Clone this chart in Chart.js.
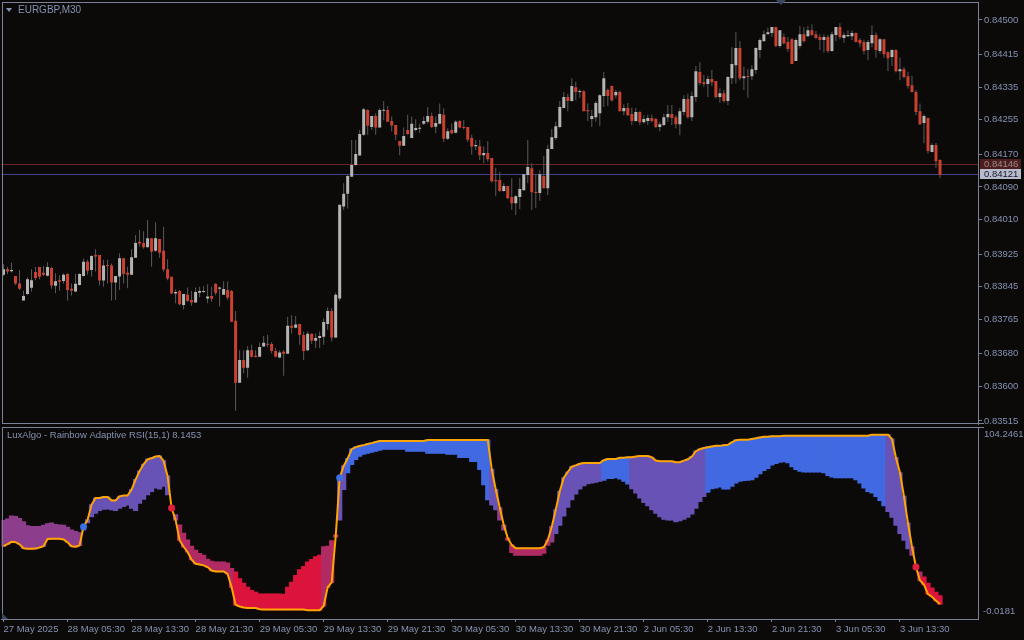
<!DOCTYPE html>
<html>
<head>
<meta charset="utf-8">
<script src="https://cdn.jsdelivr.net/npm/chart.js@4.4.1/dist/chart.umd.min.js"></script>
<style>
  html, body { margin: 0; padding: 0; background: #0c0a08; }
  #wrap { position: relative; width: 1024px; height: 640px; overflow: hidden; }
  #price { position: absolute; left: 0; top: 0; }
  #rsi { position: absolute; left: 0; top: 426px; }
</style>
</head>
<body>
<div id="wrap">
  <canvas id="price" width="1024" height="426"></canvas>
  <canvas id="rsi" width="1024" height="214"></canvas>
</div>
<script>
// EURGBP M30 candles (bar 0 = 27 May 21:30)
const opens = [
  0.83874,0.83888,0.83883,0.83871,0.83853,0.83811,0.83827,0.83842,0.83881,0.83893,
  0.83879,0.83872,0.83891,0.83847,0.83861,0.83859,0.83876,0.83840,0.83833,0.83849,
  0.83871,0.83906,0.83886,0.83923,0.83923,0.83860,0.83898,0.83897,0.83855,0.83870,
  0.83915,0.83879,0.83874,0.83916,0.83955,0.83952,0.83942,0.83964,0.83933,0.83962,
  0.83933,0.83888,0.83869,0.83828,0.83834,0.83800,0.83825,0.83812,0.83806,0.83830,
  0.83832,0.83816,0.83822,0.83852,0.83840,0.83825,0.83837,0.83834,0.83761,0.83609,
  0.83665,0.83646,0.83689,0.83675,0.83673,0.83698,0.83705,0.83704,0.83687,0.83671,
  0.83685,0.83680,0.83749,0.83744,0.83753,0.83726,0.83689,0.83729,0.83712,0.83719,
  0.83722,0.83753,0.83785,0.83720,0.83816,0.84042,0.84073,0.84115,0.84144,0.84167,
  0.84218,0.84279,0.84237,0.84264,0.84236,0.84277,0.84279,0.84252,0.84242,0.84203,
  0.84191,0.84230,0.84210,0.84230,0.84233,0.84245,0.84250,0.84264,0.84238,0.84245,
  0.84267,0.84208,0.84230,0.84223,0.84252,0.84237,0.84237,0.84210,0.84190,0.84190,
  0.84168,0.84173,0.84161,0.84107,0.84107,0.84080,0.84092,0.84065,0.84050,0.84065,
  0.84082,0.84119,0.84136,0.84077,0.84075,0.84117,0.84087,0.84183,0.84210,0.84237,
  0.84284,0.84311,0.84301,0.84335,0.84323,0.84325,0.84279,0.84257,0.84261,0.84271,
  0.84313,0.84328,0.84338,0.84315,0.84323,0.84276,0.84284,0.84269,0.84252,0.84274,
  0.84249,0.84252,0.84259,0.84257,0.84237,0.84242,0.84261,0.84269,0.84261,0.84244,
  0.84274,0.84306,0.84261,0.84311,0.84372,0.84347,0.84343,0.84355,0.84350,0.84311,
  0.84320,0.84301,0.84357,0.84389,0.84431,0.84357,0.84362,0.84362,0.84377,0.84426,
  0.84448,0.84465,0.84468,0.84483,0.84436,0.84458,0.84446,0.84453,0.84399,0.84436,
  0.84465,0.84460,0.84475,0.84465,0.84458,0.84451,0.84458,0.84424,0.84463,0.84483,
  0.84456,0.84460,0.84460,0.84468,0.84451,0.84446,0.84426,0.84443,0.84463,0.84424,
  0.84453,0.84421,0.84409,0.84426,0.84374,0.84379,0.84362,0.84340,0.84323,0.84276,
  0.84247,0.84259,0.84176,0.84193,0.84156
];
const highs = [
  0.83900,0.83893,0.83904,0.83871,0.83886,0.83835,0.83868,0.83888,0.83893,0.83893,
  0.83896,0.83905,0.83894,0.83878,0.83873,0.83878,0.83878,0.83853,0.83876,0.83878,
  0.83914,0.83911,0.83922,0.83937,0.83923,0.83911,0.83911,0.83902,0.83871,0.83927,
  0.83915,0.83894,0.83937,0.83972,0.83984,0.83981,0.84009,0.83964,0.84003,0.83962,
  0.83992,0.83912,0.83869,0.83838,0.83837,0.83827,0.83843,0.83834,0.83843,0.83845,
  0.83846,0.83851,0.83845,0.83853,0.83845,0.83858,0.83858,0.83837,0.83785,0.83689,
  0.83689,0.83699,0.83702,0.83689,0.83707,0.83724,0.83727,0.83709,0.83694,0.83689,
  0.83689,0.83771,0.83775,0.83773,0.83753,0.83735,0.83735,0.83730,0.83730,0.83735,
  0.83767,0.83794,0.83792,0.83830,0.84046,0.84099,0.84122,0.84205,0.84205,0.84230,
  0.84284,0.84281,0.84264,0.84271,0.84283,0.84301,0.84289,0.84263,0.84242,0.84203,
  0.84236,0.84267,0.84263,0.84256,0.84246,0.84263,0.84286,0.84272,0.84263,0.84295,
  0.84283,0.84234,0.84246,0.84254,0.84254,0.84254,0.84237,0.84218,0.84205,0.84205,
  0.84189,0.84202,0.84161,0.84137,0.84127,0.84099,0.84092,0.84111,0.84070,0.84112,
  0.84121,0.84205,0.84148,0.84121,0.84131,0.84166,0.84193,0.84232,0.84250,0.84301,
  0.84323,0.84319,0.84357,0.84348,0.84330,0.84328,0.84295,0.84279,0.84301,0.84318,
  0.84372,0.84332,0.84339,0.84328,0.84327,0.84293,0.84296,0.84285,0.84284,0.84276,
  0.84266,0.84268,0.84268,0.84260,0.84250,0.84270,0.84291,0.84291,0.84266,0.84284,
  0.84315,0.84319,0.84324,0.84387,0.84396,0.84365,0.84363,0.84377,0.84350,0.84332,
  0.84328,0.84362,0.84433,0.84470,0.84448,0.84385,0.84379,0.84389,0.84433,0.84455,
  0.84474,0.84481,0.84483,0.84483,0.84475,0.84467,0.84458,0.84456,0.84455,0.84485,
  0.84483,0.84485,0.84489,0.84473,0.84465,0.84465,0.84463,0.84471,0.84483,0.84492,
  0.84469,0.84475,0.84474,0.84469,0.84456,0.84452,0.84451,0.84487,0.84469,0.84456,
  0.84453,0.84424,0.84428,0.84428,0.84408,0.84385,0.84373,0.84363,0.84328,0.84295,
  0.84268,0.84260,0.84197,0.84198,0.84158
];
const lows = [
  0.83871,0.83876,0.83880,0.83849,0.83837,0.83811,0.83825,0.83833,0.83861,0.83863,
  0.83871,0.83870,0.83840,0.83829,0.83835,0.83853,0.83811,0.83823,0.83831,0.83848,
  0.83870,0.83875,0.83870,0.83882,0.83848,0.83845,0.83853,0.83811,0.83812,0.83837,
  0.83853,0.83841,0.83874,0.83916,0.83943,0.83938,0.83942,0.83894,0.83931,0.83916,
  0.83882,0.83861,0.83827,0.83804,0.83799,0.83789,0.83808,0.83798,0.83806,0.83819,
  0.83830,0.83804,0.83808,0.83824,0.83796,0.83825,0.83812,0.83759,0.83540,0.83609,
  0.83632,0.83621,0.83671,0.83671,0.83673,0.83698,0.83696,0.83681,0.83671,0.83669,
  0.83626,0.83680,0.83730,0.83743,0.83702,0.83665,0.83687,0.83704,0.83694,0.83694,
  0.83702,0.83739,0.83710,0.83718,0.83810,0.84033,0.84037,0.84115,0.84142,0.84167,
  0.84215,0.84218,0.84230,0.84218,0.84236,0.84254,0.84250,0.84226,0.84205,0.84168,
  0.84191,0.84218,0.84210,0.84226,0.84223,0.84242,0.84246,0.84235,0.84222,0.84244,
  0.84200,0.84205,0.84220,0.84222,0.84234,0.84231,0.84200,0.84169,0.84180,0.84156,
  0.84148,0.84152,0.84100,0.84067,0.84078,0.84078,0.84060,0.84033,0.84021,0.84035,
  0.84082,0.84099,0.84033,0.84039,0.84056,0.84086,0.84070,0.84183,0.84205,0.84234,
  0.84283,0.84276,0.84299,0.84303,0.84309,0.84276,0.84252,0.84237,0.84250,0.84239,
  0.84286,0.84289,0.84299,0.84308,0.84276,0.84266,0.84264,0.84242,0.84250,0.84242,
  0.84246,0.84242,0.84248,0.84235,0.84227,0.84239,0.84250,0.84242,0.84234,0.84217,
  0.84266,0.84258,0.84252,0.84299,0.84340,0.84336,0.84311,0.84338,0.84307,0.84297,
  0.84297,0.84291,0.84343,0.84344,0.84352,0.84328,0.84309,0.84352,0.84368,0.84406,
  0.84448,0.84465,0.84458,0.84433,0.84432,0.84440,0.84422,0.84391,0.84399,0.84430,
  0.84445,0.84459,0.84461,0.84453,0.84426,0.84420,0.84419,0.84422,0.84448,0.84453,
  0.84444,0.84458,0.84451,0.84445,0.84433,0.84415,0.84401,0.84433,0.84407,0.84418,
  0.84407,0.84375,0.84387,0.84371,0.84352,0.84356,0.84332,0.84322,0.84266,0.84242,
  0.84197,0.84172,0.84175,0.84137,0.84111
];
const closes = [
  0.83888,0.83882,0.83886,0.83853,0.83840,0.83822,0.83863,0.83861,0.83866,0.83869,
  0.83874,0.83893,0.83848,0.83858,0.83857,0.83874,0.83837,0.83835,0.83852,0.83876,
  0.83906,0.83884,0.83920,0.83919,0.83860,0.83897,0.83896,0.83855,0.83871,0.83915,
  0.83876,0.83874,0.83917,0.83952,0.83951,0.83942,0.83964,0.83931,0.83964,0.83928,
  0.83887,0.83865,0.83828,0.83832,0.83802,0.83827,0.83810,0.83806,0.83832,0.83834,
  0.83834,0.83821,0.83815,0.83830,0.83843,0.83839,0.83818,0.83759,0.83609,0.83665,
  0.83646,0.83689,0.83673,0.83672,0.83697,0.83707,0.83702,0.83687,0.83673,0.83683,
  0.83680,0.83749,0.83744,0.83752,0.83726,0.83687,0.83729,0.83712,0.83719,0.83724,
  0.83758,0.83785,0.83720,0.83825,0.84046,0.84073,0.84117,0.84144,0.84171,0.84220,
  0.84281,0.84240,0.84264,0.84236,0.84279,0.84279,0.84250,0.84241,0.84218,0.84191,
  0.84215,0.84220,0.84245,0.84235,0.84235,0.84252,0.84264,0.84237,0.84247,0.84269,
  0.84208,0.84227,0.84222,0.84250,0.84236,0.84235,0.84206,0.84189,0.84193,0.84168,
  0.84173,0.84158,0.84104,0.84104,0.84080,0.84092,0.84062,0.84050,0.84067,0.84085,
  0.84121,0.84139,0.84077,0.84075,0.84121,0.84087,0.84183,0.84212,0.84239,0.84286,
  0.84311,0.84301,0.84338,0.84323,0.84325,0.84276,0.84276,0.84264,0.84296,0.84315,
  0.84357,0.84313,0.84303,0.84323,0.84276,0.84284,0.84266,0.84252,0.84274,0.84249,
  0.84257,0.84259,0.84252,0.84237,0.84244,0.84261,0.84269,0.84259,0.84244,0.84276,
  0.84306,0.84261,0.84313,0.84374,0.84345,0.84343,0.84355,0.84347,0.84311,0.84320,
  0.84301,0.84360,0.84392,0.84431,0.84357,0.84362,0.84360,0.84379,0.84431,0.84451,
  0.84465,0.84470,0.84483,0.84436,0.84475,0.84443,0.84429,0.84392,0.84451,0.84465,
  0.84448,0.84475,0.84463,0.84456,0.84451,0.84458,0.84424,0.84465,0.84483,0.84458,
  0.84463,0.84463,0.84468,0.84446,0.84443,0.84424,0.84446,0.84463,0.84426,0.84453,
  0.84416,0.84406,0.84426,0.84374,0.84379,0.84360,0.84338,0.84323,0.84274,0.84244,
  0.84264,0.84178,0.84193,0.84153,0.84119
];

// Rainbow Adaptive RSI: the orange line and the edge of the coloured band
const rsiLine = [
  39.5,40.6,41.9,41.7,40.6,38.4,38.1,38.1,38.2,38.8,
  39.5,43.4,43.5,43.5,43.5,43.2,41.7,39.5,39.2,39.9,
  50.1,53.8,62.0,65.7,65.7,66.2,66.2,64.4,64.4,66.6,
  67.0,67.0,70.3,75.7,80.3,84.0,86.7,87.3,88.2,88.5,
  85.8,77.6,60.2,53.8,42.8,39.2,36.4,32.2,30.0,29.6,
  29.1,28.2,26.3,25.8,25.8,25.8,24.5,17.2,7.7,6.8,
  6.2,5.9,5.9,5.9,5.3,5.1,5.1,5.1,5.1,5.1,
  5.1,5.1,5.1,5.1,5.1,5.1,4.8,4.8,4.8,4.8,
  7.1,17.2,19.9,44.6,76.7,83.1,87.1,92.2,93.3,93.9,
  94.4,95.0,95.5,96.1,96.6,96.6,96.6,96.6,96.6,96.6,
  96.6,96.6,96.6,96.6,96.6,96.6,97.2,97.2,97.2,97.2,
  97.2,97.2,97.2,97.2,97.2,97.2,97.2,97.2,97.2,97.2,
  97.2,97.2,81.2,70.3,60.4,51.0,43.9,40.1,38.4,38.4,
  38.4,38.4,38.4,38.4,38.4,39.0,42.8,50.1,59.3,69.3,
  76.7,79.8,82.7,83.4,84.3,84.7,84.7,84.7,84.7,84.7,
  86.2,86.9,86.9,86.9,87.5,87.5,87.8,87.8,88.2,88.5,
  88.5,88.5,87.8,86.0,85.6,85.6,85.6,85.6,85.1,85.1,
  86.0,86.7,88.2,91.1,92.2,92.8,93.3,93.7,94.0,94.0,
  94.4,94.6,95.9,97.1,97.3,97.3,97.3,97.7,98.1,98.6,
  99.0,99.0,99.2,99.2,99.2,99.5,99.5,99.5,99.5,99.5,
  99.5,99.5,99.5,99.5,99.5,99.5,99.5,99.5,99.5,99.5,
  99.5,99.5,99.5,99.5,99.5,99.5,99.5,100.1,100.1,100.1,
  100.1,100.1,97.7,87.6,79.4,66.6,52.0,39.2,28.2,20.9,
  18.7,13.5,12.1,9.9,8.1
];
const rsiBand = [
  53.4,54.2,55.8,55.6,54.5,52.7,50.5,50.1,50.1,50.1,
  50.9,51.6,52.0,51.2,51.0,50.9,49.8,48.3,47.4,46.8,
  48.3,52.3,55.6,57.4,58.9,59.6,59.8,59.3,58.9,60.2,
  61.1,62.0,60.2,58.9,62.9,65.1,67.5,69.3,71.2,70.6,
  72.1,67.5,61.1,56.5,51.0,46.5,42.8,39.5,37.3,35.5,
  34.6,32.4,31.3,30.9,30.9,30.9,30.4,27.3,25.4,21.8,
  19.4,17.2,15.4,14.5,13.5,13.5,13.5,13.5,13.5,13.5,
  13.2,17.2,19.9,23.6,26.7,28.5,30.9,32.2,33.7,34.6,
  39.2,39.5,42.4,45.6,53.8,70.3,79.4,84.0,86.7,88.4,
  89.5,90.0,90.6,91.1,91.7,92.2,92.2,92.2,92.2,92.2,
  92.2,91.1,91.1,91.1,91.1,91.1,90.0,90.0,90.0,90.0,
  90.0,89.5,89.5,89.5,87.8,87.8,87.8,85.6,85.6,81.2,
  73.0,64.8,62.0,59.3,53.8,48.3,42.8,36.2,34.6,34.6,
  34.6,34.6,34.6,34.6,34.6,35.7,40.1,41.9,46.5,51.0,
  56.0,60.7,64.8,67.9,70.6,72.4,73.5,73.9,74.3,74.8,
  75.4,76.3,76.3,76.7,76.1,74.8,73.4,70.8,68.4,65.7,
  63.3,61.5,59.3,57.4,55.6,54.2,53.8,53.8,52.9,53.4,
  54.2,55.3,57.1,60.2,63.9,66.6,68.8,70.8,71.2,71.7,
  70.6,70.6,72.1,73.9,74.8,75.2,75.4,75.7,77.0,78.9,
  80.7,81.8,83.6,84.5,85.1,85.4,84.9,82.7,81.2,80.3,
  79.8,79.8,79.8,79.8,79.8,79.4,77.9,77.2,76.8,76.8,
  76.8,76.8,76.8,75.7,73.9,71.2,69.3,68.4,66.6,64.4,
  61.5,58.4,55.3,51.0,46.5,42.8,38.2,34.6,29.1,25.4,
  22.7,19.4,16.8,14.5,12.6
];
// band colour level per bar, as [bar count, level] runs (0 = lowest, 4 = highest)
const zoneRuns = [[20,2],[22,3],[2,2],[14,1],[22,0],[4,1],[2,3],[36,4],[2,3],[2,2],
                  [11,1],[1,2],[12,3],[7,4],[19,3],[45,4],[6,3],[1,2],[2,1],[5,0]];
const buyBars = [20, 84];
const sellBars = [42, 228];
const rsiCurrent = 8.1453;
const rsiMin = -0.0181;
const rsiMax = 104.2461;

const priceTicks = [0.84500,0.84415,0.84335,0.84255,0.84170,0.84090,0.84010,
                    0.83925,0.83845,0.83765,0.83680,0.83600,0.83515];
const askLevel = 0.84146;
const bidLevel = 0.84121;
const timeLabels = ['27 May 2025','28 May 05:30','28 May 13:30','28 May 21:30','29 May 05:30',
  '29 May 13:30','29 May 21:30','30 May 05:30','30 May 13:30','30 May 21:30',
  '2 Jun 05:30','2 Jun 13:30','2 Jun 21:30','3 Jun 05:30','3 Jun 13:30'];

const SLOTS = 244;           // visible bar slots incl. empty right margin
const slots = Array.from({length: SLOTS}, (_, i) => i);
const TXT = '#8692b4';
const AXIS = '#7b8298';
const FONT = '"Liberation Sans", Arial, sans-serif';
const BULL = '#b4b4b4';
const BEAR = '#c9412f';
const LEVEL_COLORS = ['#dc143c', '#b02a64', '#8c3e8c', '#6852b6', '#4169e1'];

const zones = [];
zoneRuns.forEach(([n, lvl]) => { for (let k = 0; k < n; k++) zones.push(lvl); });

// no label padding: MT4 lets the end labels sit right at the frame
const noPad = s => { s.paddingTop = 0; s.paddingBottom = 0; s.width = 46; };

const priceOverlay = {
  id: 'priceOverlay',
  beforeDatasetsDraw(chart) {
    const {ctx, chartArea: a, scales: {y}} = chart;
    ctx.save();
    [[askLevel, '#6a2424'], [bidLevel, '#40428a']].forEach(([v, c]) => {
      const py = Math.round(y.getPixelForValue(v)) + 0.5;
      ctx.strokeStyle = c;
      ctx.lineWidth = 1;
      ctx.beginPath(); ctx.moveTo(a.left, py); ctx.lineTo(a.right, py); ctx.stroke();
    });
    ctx.restore();
  },
  afterDraw(chart) {
    const {ctx, chartArea: a, scales: {y}} = chart;
    ctx.save();
    ctx.strokeStyle = AXIS;
    ctx.lineWidth = 1;
    ctx.beginPath();
    ctx.moveTo(2.5, a.top); ctx.lineTo(2.5, a.bottom);
    ctx.moveTo(2, a.top + 0.5); ctx.lineTo(a.right, a.top + 0.5);
    ctx.moveTo(2, a.bottom - 0.5); ctx.lineTo(a.right + 6, a.bottom - 0.5);
    ctx.stroke();

    ctx.font = '9.5px ' + FONT;
    ctx.textBaseline = 'middle';
    [[askLevel, '#4e1d1d', '#a08a8a'], [bidLevel, '#b6bccb', '#161628']].forEach(([v, bg, fg]) => {
      const py = Math.round(y.getPixelForValue(v));
      ctx.fillStyle = bg;
      ctx.fillRect(980, py - 5, 41, 10);
      ctx.fillStyle = fg;
      ctx.fillText(v.toFixed(5), 984, py + 0.5);
    });

    ctx.fillStyle = TXT;
    ctx.font = '10px ' + FONT;
    ctx.fillText('EURGBP,M30', 18, 10.5);
    ctx.beginPath(); ctx.moveTo(6, 8); ctx.lineTo(12, 8); ctx.lineTo(9, 12); ctx.closePath(); ctx.fill();

    ctx.fillStyle = '#3a4562';
    ctx.beginPath(); ctx.moveTo(776, 0); ctx.lineTo(786, 0); ctx.lineTo(781, 5); ctx.closePath(); ctx.fill();
    ctx.restore();
  }
};

new Chart(document.getElementById('price'), {
  type: 'bar',
  data: {
    labels: slots,
    datasets: [
      {
        label: 'wick',
        data: highs.map((h, i) => [lows[i], h]),
        backgroundColor: '#5a5a5a',
        barThickness: 1,
        inflateAmount: 0,
        grouped: false,
        order: 2
      },
      {
        label: 'body',
        data: opens.map((o, i) => [Math.min(o, closes[i]), Math.max(o, closes[i])]),
        backgroundColor: opens.map((o, i) => closes[i] >= o ? BULL : BEAR),
        barThickness: 3,
        minBarLength: 1,
        inflateAmount: 0,
        grouped: false,
        order: 1
      }
    ]
  },
  options: {
    responsive: false,
    animation: false,
    events: [],
    layout: { autoPadding: false, padding: { left: 1.5, top: 2, right: 0, bottom: 2 } },
    plugins: { legend: { display: false }, tooltip: { enabled: false } },
    scales: {
      x: { display: false },
      y: {
        position: 'right',
        min: 0.835076,
        max: 0.845442,
        afterBuildTicks: s => { s.ticks = priceTicks.map(v => ({ value: v })); },
        afterFit: noPad,
        grid: { drawOnChartArea: false, color: AXIS, tickLength: 4 },
        border: { color: AXIS },
        ticks: { color: TXT, font: { family: FONT, size: 9.5 }, padding: 2, autoSkip: false,
                 callback: v => v.toFixed(5) }
      }
    }
  },
  plugins: [priceOverlay]
});

const rsiOverlay = {
  id: 'rsiOverlay',
  afterDraw(chart) {
    const {ctx, chartArea: a} = chart;
    ctx.save();
    ctx.strokeStyle = AXIS;
    ctx.lineWidth = 1;
    ctx.beginPath();
    ctx.moveTo(2.5, a.top); ctx.lineTo(2.5, a.bottom);
    ctx.moveTo(2, a.top + 0.5); ctx.lineTo(a.right + 6, a.top + 0.5);
    ctx.stroke();

    ctx.fillStyle = TXT;
    ctx.textBaseline = 'middle';
    ctx.font = '9.5px ' + FONT;
    ctx.fillText('LuxAlgo - Rainbow Adaptive RSI(15,1) ' + rsiCurrent.toFixed(4), 7, a.top + 8);
    ctx.fillText(rsiMax.toFixed(4), 984, a.top + 7);
    ctx.fillText(rsiMin.toFixed(4), 983, a.bottom - 8);

    ctx.fillStyle = '#3a4562';
    ctx.beginPath(); ctx.moveTo(2, a.bottom - 6); ctx.lineTo(2, a.bottom); ctx.lineTo(8, a.bottom); ctx.closePath(); ctx.fill();
    ctx.restore();
  }
};

new Chart(document.getElementById('rsi'), {
  type: 'bar',
  data: {
    labels: slots,
    datasets: [
      {
        type: 'line',
        data: rsiLine.map((v, i) => buyBars.includes(i) ? v : null),
        showLine: false,
        pointRadius: 3.5,
        pointBorderWidth: 0,
        pointBackgroundColor: '#3b6fe2',
        order: 0
      },
      {
        type: 'line',
        data: rsiLine.map((v, i) => sellBars.includes(i) ? v : null),
        showLine: false,
        pointRadius: 3.5,
        pointBorderWidth: 0,
        pointBackgroundColor: '#e01e3e',
        order: 0
      },
      {
        type: 'line',
        data: rsiLine,
        borderColor: '#ffa500',
        borderWidth: 2,
        pointRadius: 0,
        tension: 0,
        order: 1
      },
      {
        type: 'bar',
        data: rsiLine.map((v, i) => [Math.min(v, rsiBand[i]), Math.max(v, rsiBand[i])]),
        backgroundColor: zones.map(z => LEVEL_COLORS[z]),
        barPercentage: 1,
        categoryPercentage: 1,
        borderWidth: 0,
        inflateAmount: 0.6,
        order: 2
      }
    ]
  },
  options: {
    responsive: false,
    animation: false,
    events: [],
    layout: { autoPadding: false, padding: { left: 1.5, top: 1, right: 0, bottom: 0 } },
    plugins: { legend: { display: false }, tooltip: { enabled: false } },
    scales: {
      x: {
        afterBuildTicks: s => {
          s.ticks = s.ticks.filter(t => t.value % 16 === 0 && t.value / 16 < timeLabels.length);
        },
        afterFit: s => { s.height = 21; s.paddingLeft = 0; s.paddingRight = 0; },
        grid: { drawOnChartArea: false, color: AXIS, tickLength: 3, offset: false },
        border: { color: AXIS },
        ticks: {
          color: TXT, font: { family: FONT, size: 9.5 }, align: 'start',
          maxRotation: 0, autoSkip: false, padding: 2,
          callback: v => timeLabels[v / 16] || ''
        }
      },
      y: {
        position: 'right',
        min: rsiMin,
        max: rsiMax,
        afterFit: noPad,
        ticks: { display: false },
        grid: { display: false },
        border: { color: AXIS }
      }
    }
  },
  plugins: [rsiOverlay]
});
</script>
</body>
</html>
